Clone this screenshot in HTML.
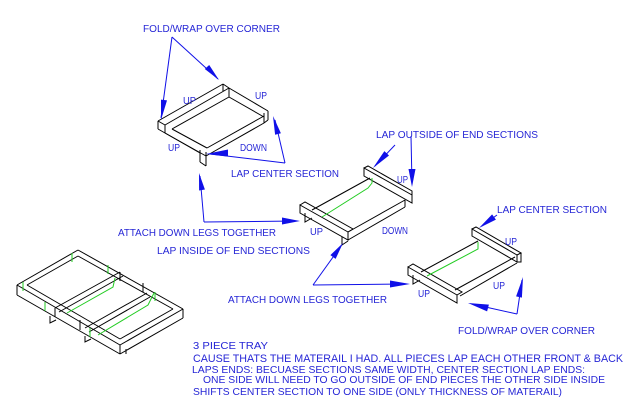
<!DOCTYPE html>
<html>
<head>
<meta charset="utf-8">
<style>
  html,body{margin:0;padding:0;background:#fff;}
  body{width:640px;height:417px;overflow:hidden;}
  svg{display:block;}
  text{font-family:"Liberation Sans",Arial,sans-serif;font-size:10px;fill:#2626d6;}
</style>
</head>
<body>
<svg width="640" height="417" viewBox="0 0 640 417" xmlns="http://www.w3.org/2000/svg">
<rect width="640" height="417" fill="#fff"/>

<!-- ============ TRAY 1 (top) ============ -->
<g stroke="#000" stroke-width="1" fill="none">
  <line x1="158" y1="121" x2="223" y2="84"/>
  <line x1="165" y1="125" x2="229" y2="88"/>
  <line x1="172" y1="129" x2="229" y2="97"/>
  <line x1="158" y1="121" x2="158" y2="129"/>
  <line x1="165" y1="125" x2="165" y2="133"/>
  <line x1="158" y1="121" x2="165" y2="125"/>
  <line x1="158" y1="129" x2="200" y2="153"/>
  <line x1="165" y1="133" x2="206" y2="156"/>
  <line x1="172" y1="129" x2="207" y2="148"/>
  <line x1="223" y1="84" x2="223" y2="91"/>
  <line x1="229" y1="88" x2="229" y2="97"/>
  <line x1="223" y1="84" x2="229" y2="88"/>
  <line x1="229" y1="88" x2="268" y2="111"/>
  <line x1="229" y1="97" x2="264" y2="117"/>
  <line x1="268" y1="111" x2="268" y2="120"/>
  <line x1="264" y1="113" x2="264" y2="123"/>
  <line x1="264" y1="123" x2="268" y2="120"/>
  <line x1="207" y1="148" x2="264" y2="116"/>
  <line x1="206" y1="156" x2="264" y2="123"/>
  <line x1="200" y1="150" x2="200" y2="162"/>
  <line x1="206" y1="152" x2="206" y2="166"/>
  <line x1="200" y1="162" x2="206" y2="166"/>
</g>

<!-- ============ TRAY 2 (middle) ============ -->
<g stroke="#000" stroke-width="1" fill="none">
  <polygon points="300,205 348,232 348,240 300,213"/>
  <polyline points="300,205 305,202 353,229 348,232"/>
  <polygon points="364,168 412,195 412,203 364,176"/>
  <polyline points="364,168 368,166 412,191 412,195"/>
  <line x1="312" y1="210" x2="370" y2="178"/>
  <line x1="348" y1="232" x2="405" y2="200"/>
  <line x1="348" y1="240" x2="405" y2="207"/>
  <line x1="405" y1="200" x2="405" y2="207"/>
  <polyline points="305,213 305,222 312,218"/>
  <polyline points="342,237 342,245 348,241"/>
</g>
<polyline points="322,217 368,188 372,183 372,178" stroke="#22cc22" stroke-width="1" fill="none"/>

<!-- ============ TRAY 3 (right) ============ -->
<g stroke="#000" stroke-width="1" fill="none">
  <polygon points="472,229 517,255 517,262 472,236"/>
  <polyline points="472,229 476,227 521,253 517,255"/>
  <polyline points="521,253 521,262 517,262"/>
  <polygon points="408,267 457,295 457,303 408,275"/>
  <polyline points="408,267 413,264 462,292 457,295"/>
  <line x1="421" y1="272" x2="478" y2="241"/>
  <line x1="455" y1="290" x2="515" y2="257"/>
  <line x1="460" y1="296" x2="517" y2="263"/>
  <polyline points="413,275 413,284 420,280"/>
</g>
<polyline points="427,276 478,249 478,242" stroke="#22cc22" stroke-width="1" fill="none"/>

<!-- ============ 3 PIECE TRAY (left) ============ -->
<g stroke="#000" stroke-width="1" fill="none">
  <line x1="17" y1="285" x2="78" y2="250"/>
  <line x1="78" y1="250" x2="183" y2="309"/>
  <line x1="17" y1="285" x2="120" y2="345"/>
  <line x1="120" y1="345" x2="183" y2="309"/>
  <line x1="17" y1="285" x2="17" y2="295"/>
  <line x1="17" y1="295" x2="120" y2="354"/>
  <line x1="120" y1="345" x2="120" y2="354"/>
  <line x1="126" y1="349" x2="126" y2="354"/>
  <line x1="120" y1="354" x2="183" y2="318"/>
  <line x1="183" y1="309" x2="183" y2="318"/>
  <line x1="27" y1="285" x2="78" y2="256"/>
  <line x1="78" y1="256" x2="173" y2="309"/>
  <line x1="27" y1="285" x2="120" y2="339"/>
  <line x1="120" y1="339" x2="173" y2="309"/>
  <line x1="55" y1="308" x2="120" y2="272"/>
  <line x1="59" y1="312" x2="123" y2="276"/>
  <line x1="85" y1="328" x2="147" y2="293"/>
  <line x1="89" y1="332" x2="150" y2="297"/>
  <line x1="120" y1="272" x2="120" y2="281"/>
  <line x1="143" y1="283" x2="143" y2="292"/>
  <line x1="80" y1="320" x2="80" y2="330"/>
  <line x1="55" y1="308" x2="55" y2="317"/>
  <polyline points="50,316 50,323 56,320"/>
  <polyline points="85,336 85,342 91,339"/>
</g>
<g stroke="#22cc22" stroke-width="1" fill="none">
  <polyline points="67,313 113,287 115,278"/>
  <polyline points="98,335 148,305 154,293"/>
  <line x1="72" y1="253" x2="72" y2="262"/>
  <line x1="108" y1="265" x2="108" y2="274"/>
  <line x1="155" y1="292" x2="155" y2="301"/>
  <line x1="23" y1="282" x2="23" y2="291"/>
  <line x1="45" y1="302" x2="45" y2="311"/>
  <line x1="90" y1="328" x2="90" y2="337"/>
</g>

<!-- ============ ARROWS ============ -->
<g stroke="#1010e8" stroke-width="1" fill="none">
  <line x1="172" y1="37" x2="161" y2="118"/>
  <line x1="172" y1="37" x2="218" y2="79"/>
  <line x1="285" y1="163" x2="275" y2="120"/>
  <line x1="285" y1="163" x2="210" y2="154"/>
  <line x1="204" y1="222" x2="200" y2="176"/>
  <line x1="204" y1="222" x2="296" y2="221"/>
  <line x1="395" y1="145" x2="375" y2="166"/>
  <line x1="411" y1="136" x2="412" y2="184"/>
  <line x1="313" y1="285" x2="341" y2="246"/>
  <line x1="313" y1="285" x2="406" y2="284"/>
  <line x1="497" y1="215" x2="482" y2="226"/>
  <line x1="517" y1="314" x2="522" y2="280"/>
  <line x1="517" y1="314" x2="472" y2="304"/>
</g>
<g fill="#1010e8" stroke="none">
  <polygon points="161,120 167,100.4 161,99.6"/>
  <polygon points="219,80 209.2,65 204.8,69"/>
  <polygon points="273,116 280.9,133.2 275.1,134.8"/>
  <polygon points="206,154 228,149.5 228,156.5"/>
  <polygon points="199,173 204.9,189.5 199.1,190.5"/>
  <polygon points="300,221 282,217.5 282,224.5"/>
  <polygon points="373,168 389,155.5 384.4,151.1"/>
  <polygon points="412,187 408.5,169 415.5,169"/>
  <polygon points="343,243 335.6,258.9 330.4,255.1"/>
  <polygon points="410,284 390,280.5 390,287.5"/>
  <polygon points="479,228 495.9,219.6 492.1,214.4"/>
  <polygon points="523,277 521.9,297.6 516.1,296.4"/>
  <polygon points="468,303 488.9,304.6 487.1,311.4"/>
</g>

<!-- ============ TEXT ============ -->
<text x="143" y="32" textLength="137" lengthAdjust="spacingAndGlyphs">FOLD/WRAP OVER CORNER</text>
<text x="183" y="104" textLength="13" lengthAdjust="spacingAndGlyphs">UP</text>
<text x="255" y="99" textLength="12" lengthAdjust="spacingAndGlyphs">UP</text>
<text x="168" y="151" textLength="12" lengthAdjust="spacingAndGlyphs">UP</text>
<text x="240" y="151" textLength="27" lengthAdjust="spacingAndGlyphs">DOWN</text>
<text x="231" y="177" textLength="108" lengthAdjust="spacingAndGlyphs">LAP CENTER SECTION</text>
<text x="376" y="138" textLength="162" lengthAdjust="spacingAndGlyphs">LAP OUTSIDE OF END SECTIONS</text>
<text x="397" y="183" textLength="11" lengthAdjust="spacingAndGlyphs">UP</text>
<text x="310" y="235" textLength="13" lengthAdjust="spacingAndGlyphs">UP</text>
<text x="382" y="234" textLength="26" lengthAdjust="spacingAndGlyphs">DOWN</text>
<text x="497" y="213" textLength="110" lengthAdjust="spacingAndGlyphs">LAP CENTER SECTION</text>
<text x="505" y="245" textLength="12" lengthAdjust="spacingAndGlyphs">UP</text>
<text x="493" y="289" textLength="12" lengthAdjust="spacingAndGlyphs">UP</text>
<text x="418" y="297" textLength="12" lengthAdjust="spacingAndGlyphs">UP</text>
<text x="458" y="334" textLength="137" lengthAdjust="spacingAndGlyphs">FOLD/WRAP OVER CORNER</text>
<text x="118" y="236" textLength="158" lengthAdjust="spacingAndGlyphs">ATTACH DOWN LEGS TOGETHER</text>
<text x="157" y="254" textLength="153" lengthAdjust="spacingAndGlyphs">LAP INSIDE OF END SECTIONS</text>
<text x="228" y="303" textLength="159" lengthAdjust="spacingAndGlyphs">ATTACH DOWN LEGS TOGETHER</text>
<text x="193" y="349" textLength="75" lengthAdjust="spacingAndGlyphs">3 PIECE TRAY</text>
<text x="193" y="362" style="font-size:11px" textLength="430" lengthAdjust="spacingAndGlyphs">CAUSE THATS THE MATERAIL I HAD. ALL PIECES LAP EACH OTHER FRONT &amp; BACK</text>
<text x="192" y="373" textLength="393" lengthAdjust="spacingAndGlyphs">LAPS ENDS:   BECUASE SECTIONS SAME WIDTH, CENTER SECTION LAP ENDS:</text>
<text x="203" y="383" textLength="402" lengthAdjust="spacingAndGlyphs">ONE SIDE WILL NEED TO GO OUTSIDE OF END PIECES THE OTHER SIDE INSIDE</text>
<text x="193" y="395" textLength="369" lengthAdjust="spacingAndGlyphs">SHIFTS CENTER SECTION TO ONE SIDE (ONLY THICKNESS OF MATERAIL)</text>
</svg>
</body>
</html>
